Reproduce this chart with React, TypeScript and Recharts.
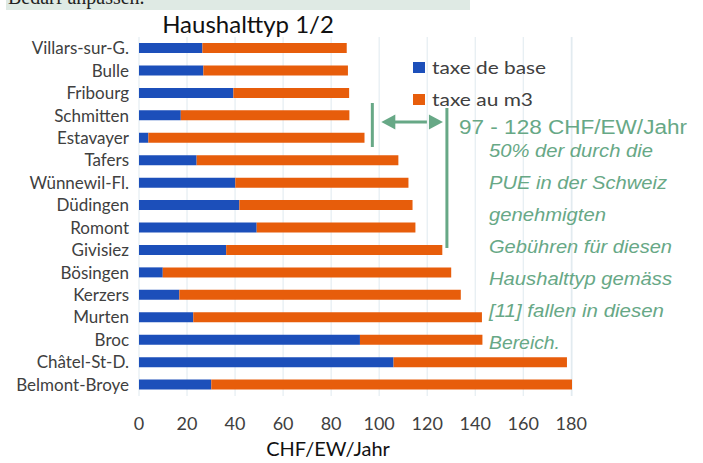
import React from 'react';
import { BarChart, Bar, XAxis, YAxis, CartesianGrid } from 'recharts';

const categories = [
  'Villars-sur-G.', 'Bulle', 'Fribourg', 'Schmitten', 'Estavayer', 'Tafers',
  'Wünnewil-Fl.', 'Düdingen', 'Romont', 'Givisiez', 'Bösingen', 'Kerzers',
  'Murten', 'Broc', 'Châtel-St-D.', 'Belmont-Broye',
];
const taxeDeBase = [26.4, 26.8, 39.3, 17.4, 3.9, 24, 40.1, 41.8, 49, 36.3, 9.9, 16.8, 22.6, 92, 106, 30.1];
const taxeAuM3 = [60.1, 60.2, 48.2, 70.2, 90, 84, 72.1, 72.1, 66.1, 90, 120.1, 117.2, 120.2, 51, 72.2, 150.2];
const xTicks = [0, 20, 40, 60, 80, 100, 120, 140, 160, 180];
const seriesNames = ['taxe de base', 'taxe au m3'];
const rangeLow = 97;
const rangeHigh = 128;
const noteTitle = '97 - 128 CHF/EW/Jahr';
const noteLines = [
  '50% der durch die',
  'PUE in der Schweiz',
  'genehmigten',
  'Gebühren für diesen',
  'Haushalttyp gemäss',
  '[11] fallen in diesen',
  'Bereich.',
];
const noteWidths = [164, 178, 117, 183, 183, 175, 71];

const data = categories.map((name, i) => ({ name, base: taxeDeBase[i], m3: taxeAuM3[i] }));

const BLUE = '#1c4fba';
const ORANGE = '#e75d0b';
const GREEN = '#67a886';
const TEXT = '#404040';
const FONT = 'Lato, "Open Sans", sans-serif';

const PLOT_LEFT = 139;
const PLOT_RIGHT = 572;
const DOMAIN_MAX = 180;
const sx = (v: number) => PLOT_LEFT + (v / DOMAIN_MAX) * (PLOT_RIGHT - PLOT_LEFT);

const YTick = (props: any) => {
  const { y, payload } = props;
  return (
    <text x={129} y={y} dy={6} textAnchor="end" fontFamily={FONT} fontSize={17} fill={TEXT}>
      {payload.value}
    </text>
  );
};

const XTick = (props: any) => {
  const { x, y, payload } = props;
  return (
    <text x={x} y={y} dy={26} textAnchor="middle" fontFamily={FONT} fontSize={18} fill={TEXT}>
      {payload.value}
    </text>
  );
};

export default function App() {
  const xa = sx(rangeLow);
  const xb = sx(rangeHigh);
  return (
    <div style={{ position: 'absolute', left: 0, top: 0, width: 703, height: 463, background: '#fff', overflow: 'hidden' }}>
      <div style={{ position: 'absolute', left: 6, top: 0, width: 464, height: 10, background: '#dfeae4', overflow: 'hidden' }}>
        <div style={{ position: 'absolute', left: 2, top: -14, fontFamily: '"Liberation Serif", serif', fontSize: 20, color: '#222', whiteSpace: 'nowrap' }}>
          Bedarf anpassen.
        </div>
      </div>
      <BarChart
        width={703}
        height={463}
        data={data}
        layout="vertical"
        margin={{ top: 37, right: 703 - PLOT_RIGHT, bottom: 1, left: 0 }}
        barSize={10}
      >
        <CartesianGrid horizontal={false} stroke="#dfe9ef" strokeWidth={1} />
        <XAxis
          type="number"
          domain={[0, DOMAIN_MAX]}
          ticks={xTicks}
          interval={0}
          axisLine={false}
          tickLine={false}
          height={66}
          tick={<XTick />}
        />
        <YAxis
          type="category"
          dataKey="name"
          width={PLOT_LEFT}
          axisLine={false}
          tickLine={false}
          interval={0}
          tick={<YTick />}
        />
        <Bar dataKey="base" stackId="a" fill={BLUE} isAnimationActive={false} />
        <Bar dataKey="m3" stackId="a" fill={ORANGE} isAnimationActive={false} />
      </BarChart>
      <svg width={703} height={463} style={{ position: 'absolute', left: 0, top: 0, pointerEvents: 'none' }}>
        <text x={248} y={33} textAnchor="middle" fontFamily={FONT} fontSize={24} fill="#111">
          Haushalttyp 1/2
        </text>
        <text x={328} y={456} textAnchor="middle" fontFamily={FONT} fontSize={20} fill="#111">
          CHF/EW/Jahr
        </text>
        <rect x={413} y={62} width={12} height={11} fill={BLUE} />
        <text x={432} y={74} fontFamily={FONT} fontSize={17} fill={TEXT} textLength={114} lengthAdjust="spacingAndGlyphs">
          {seriesNames[0]}
        </text>
        <rect x={413} y={94} width={12} height={11} fill={ORANGE} />
        <text x={432} y={106} fontFamily={FONT} fontSize={17} fill={TEXT} textLength={101} lengthAdjust="spacingAndGlyphs">
          {seriesNames[1]}
        </text>
        <line x1={xa} y1={103} x2={xa} y2={147} stroke={GREEN} strokeWidth={3} />
        <line x1={xb} y1={108} x2={xb} y2={248} stroke={GREEN} strokeWidth={3} />
        <line x1={xa + 20} y1={122} x2={xb - 20} y2={122} stroke={GREEN} strokeWidth={3} />
        <polygon points={`${xa + 9},122 ${xa + 23},114.5 ${xa + 23},129.5`} fill={GREEN} />
        <polygon points={`${xb - 4},122 ${xb - 18},114.5 ${xb - 18},129.5`} fill={GREEN} />
        <text x={459} y={134} fontFamily='"Liberation Sans", Arial, sans-serif' fontSize={20} fill={GREEN} textLength={228} lengthAdjust="spacingAndGlyphs">
          {noteTitle}
        </text>
        {noteLines.map((t, i) => (
          <text
            key={t}
            x={489}
            y={157 + i * 32}
            fontFamily='"Liberation Sans", Arial, sans-serif'
            fontStyle="italic"
            fontSize={17.5}
            fill={GREEN}
            textLength={noteWidths[i]}
            lengthAdjust="spacingAndGlyphs"
          >
            {t}
          </text>
        ))}
      </svg>
    </div>
  );
}
